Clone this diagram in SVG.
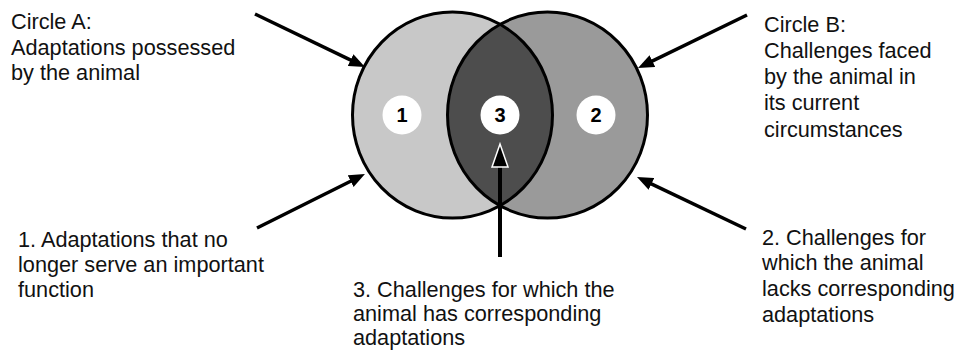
<svg xmlns="http://www.w3.org/2000/svg" width="955" height="353" viewBox="0 0 955 353">
  <style>
    .lbl { font-family: "Liberation Sans", Arial, sans-serif; font-size: 21.7px; fill: #111; }
    .num { font-family: "Liberation Sans", Arial, sans-serif; font-size: 20px; font-weight: bold; fill: #000; text-anchor: middle; }
    .conn { stroke: #000; stroke-width: 3.5; fill: none; }
    .edge { fill: none; stroke: #000; stroke-width: 3; }
  </style>
  <defs>
    <marker id="ah" markerUnits="userSpaceOnUse" markerWidth="17" markerHeight="13" refX="10" refY="6.5" orient="auto">
      <path d="M0,0 L16,6.5 L0,13 z" fill="#000"/>
    </marker>
  </defs>
  <rect width="955" height="353" fill="#fff"/>

  <g id="circleA">
    <ellipse cx="452.5" cy="115" rx="100" ry="103" fill="#c8c8c8"/>
  </g>
  <g id="circleB">
    <ellipse cx="547.5" cy="115" rx="100" ry="103" fill="#9a9a9a"/>
  </g>
  <g id="intersection">
    <path d="M500,24.4 A100,103 0 0 1 500,205.6 A100,103 0 0 1 500,24.4 Z" fill="#4d4d4d"/>
  </g>
  <g id="outlines">
    <ellipse class="edge" cx="452.5" cy="115" rx="100" ry="103"/>
    <ellipse class="edge" cx="547.5" cy="115" rx="100" ry="103"/>
  </g>

  <g id="badge1">
    <circle cx="402" cy="115" r="19.5" fill="#fff"/>
    <text class="num" x="402" y="122">1</text>
  </g>
  <g id="badge3">
    <circle cx="500" cy="115" r="19.5" fill="#fff"/>
    <text class="num" x="500" y="122">3</text>
  </g>
  <g id="badge2">
    <circle cx="596" cy="115" r="19.5" fill="#fff"/>
    <text class="num" x="596" y="122">2</text>
  </g>

  <g id="connectors">
    <line class="conn" x1="255" y1="14" x2="359.6" y2="64.4" marker-end="url(#ah)"/>
    <line class="conn" x1="257" y1="228" x2="359.6" y2="176.7" marker-end="url(#ah)"/>
    <line class="conn" x1="747" y1="15" x2="643.4" y2="65.4" marker-end="url(#ah)"/>
    <line class="conn" x1="746" y1="229" x2="642.4" y2="179.6" marker-end="url(#ah)"/>
    <line x1="500" y1="257" x2="500" y2="160" stroke="#000" stroke-width="4"/>
    <polygon points="500,144 508,167 492,167" fill="#000" stroke="#fff" stroke-width="1.5" stroke-linejoin="miter"/>
  </g>

  <g id="labelA">
    <text class="lbl" x="11" y="29">Circle A:</text>
    <text class="lbl" x="11" y="54.5">Adaptations possessed</text>
    <text class="lbl" x="11" y="80">by the animal</text>
  </g>
  <g id="labelB">
    <text class="lbl" x="764" y="32">Circle B:</text>
    <text class="lbl" x="764" y="57.5">Challenges faced</text>
    <text class="lbl" x="764" y="83.5">by the animal in</text>
    <text class="lbl" x="764" y="110">its current</text>
    <text class="lbl" x="764" y="136.5">circumstances</text>
  </g>
  <g id="label1">
    <text class="lbl" x="18" y="247">1. Adaptations that no</text>
    <text class="lbl" x="18" y="272">longer serve an important</text>
    <text class="lbl" x="18" y="297">function</text>
  </g>
  <g id="label3">
    <text class="lbl" x="353" y="297">3. Challenges for which the</text>
    <text class="lbl" x="353" y="321">animal has corresponding</text>
    <text class="lbl" x="353" y="345">adaptations</text>
  </g>
  <g id="label2">
    <text class="lbl" x="762" y="245">2. Challenges for</text>
    <text class="lbl" x="762" y="270">which the animal</text>
    <text class="lbl" x="762" y="296">lacks corresponding</text>
    <text class="lbl" x="762" y="322">adaptations</text>
  </g>
</svg>
